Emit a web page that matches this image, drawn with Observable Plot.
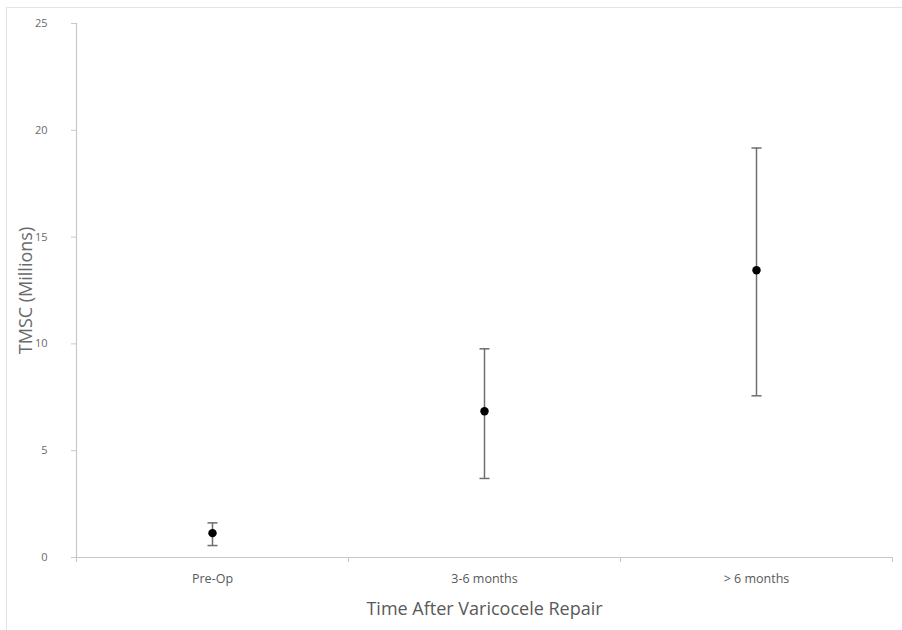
<!DOCTYPE html>
<html>
<head>
<meta charset="utf-8">
<script src="https://cdn.jsdelivr.net/npm/d3@7"></script>
<script src="https://cdn.jsdelivr.net/npm/@observablehq/plot@0.6"></script>
<style>
  html, body { margin: 0; padding: 0; background: #fff; }
  #frame { position: absolute; left: 6px; top: 7px; width: 896px; height: 623px;
           border-left: 1px solid #e3e3e3; border-top: 1px solid #e3e3e3; }
  #chart { position: absolute; left: 0; top: 0; }
</style>
</head>
<body>
<div id="frame"></div>
<div id="chart"></div>
<script>
const categories = ["Pre-Op", "3-6 months", "> 6 months"];
const means = [1.14, 6.85, 13.45];
const lower = [0.56, 3.70, 7.57];
const upper = [1.62, 9.77, 19.17];
const yTicks = [0, 5, 10, 15, 20, 25];
const xBoundaries = [-0.5, 0.5, 1.5, 2.5];

const data = categories.map((c, i) => ({i, cat: c, mean: means[i], lo: lower[i], hi: upper[i]}));

const capSymbol = { draw(ctx) { ctx.moveTo(-5, 0); ctx.lineTo(5, 0); } };

const font = "'Open Sans', 'Liberation Sans', sans-serif";

const chart = Plot.plot({
  width: 902,
  height: 630,
  marginLeft: 76,
  marginRight: 10,
  marginTop: 23,
  marginBottom: 73,
  style: { fontFamily: font, color: "#595959", background: "transparent", overflow: "visible" },
  x: { domain: [-0.5, 2.5], axis: null },
  y: { domain: [0, 25], axis: null },
  marks: [
    Plot.ruleX([-0.5], { stroke: "#c8c8c8", strokeWidth: 1.2 }),
    Plot.ruleY([0], { stroke: "#c8c8c8", strokeWidth: 1.2 }),
    Plot.axisY({ ticks: yTicks, tickSize: 5, tickPadding: 24, fontSize: 11, stroke: "#c8c8c8", fill: "#6a6a6a",
                 label: "TMSC (Millions)", labelAnchor: "center", labelArrow: "none", labelOffset: 57 }),
    Plot.axisX({ ticks: xBoundaries, tickSize: 5, tickFormat: () => "", stroke: "#c8c8c8", label: null }),
    Plot.axisX({ ticks: [0, 1, 2], tickSize: 0, tickPadding: 17, tickFormat: i => categories[i], fontSize: 12.5, fill: "#595959",
                 label: "Time After Varicocele Repair", labelAnchor: "center", labelArrow: "none", labelOffset: 57 }),
    Plot.ruleX(data, { x: "i", y1: "lo", y2: "hi", stroke: "#6e6e6e", strokeWidth: 1.5 }),
    Plot.dot(data, { x: "i", y: "hi", symbol: capSymbol, stroke: "#6e6e6e", strokeWidth: 1.5 }),
    Plot.dot(data, { x: "i", y: "lo", symbol: capSymbol, stroke: "#6e6e6e", strokeWidth: 1.5 }),
    Plot.dot(data, { x: "i", y: "mean", r: 4.2, fill: "#000" })
  ]
});
document.getElementById("chart").appendChild(chart);
chart.querySelectorAll("[aria-label='y-axis label'] text, [aria-label='x-axis label'] text").forEach(t => t.setAttribute("font-size", 18));
</script>
</body>
</html>
